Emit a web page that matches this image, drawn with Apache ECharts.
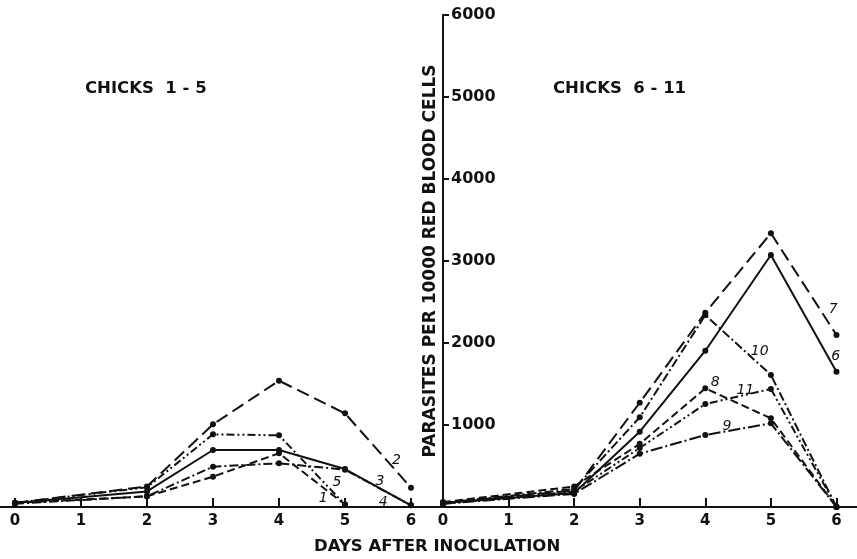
<!DOCTYPE html>
<html>
<head>
<meta charset="utf-8">
<script src="https://cdn.jsdelivr.net/npm/echarts@6/dist/echarts.min.js"></script>
<style>
  html, body { margin: 0; padding: 0; background: #fff; }
  #chart { width: 857px; height: 559px; }
</style>
</head>
<body>
<div id="chart"></div>
<script>
// days on which blood smears were counted
const days = [0, 2, 3, 4, 5, 6]
const dayTicks = [0, 1, 2, 3, 4, 5, 6]

// chicks 1-5 (parasites per 10000 red cells)
const chick1 = [50, 130, 370, 655, 30]
const chick2 = [50, 250, 1008, 1540, 1142, 236]
const chick3 = [50, 190, 695, 695, 463, 20]
const chick4 = [40, 130, 492, 533, 455, 20]
const chick5 = [50, 240, 886, 874, 30]

// chicks 6-11
const chick6 = [50, 170, 918, 1906, 3073, 1650]
const chick7 = [50, 200, 1272, 2370, 3338, 2098]
const chick8 = [60, 250, 770, 1447, 1081, 0]
const chick9 = [40, 160, 650, 878, 1020, 0]
const chick10 = [50, 220, 1094, 2341, 1610, 0]
const chick11 = [40, 190, 720, 1256, 1439, 0]

// where the chick numbers sit, in data units [day, parasites]
const labelSpots = {
  1: [4.67, 106], 2: [5.78, 573], 3: [5.53, 309], 4: [5.58, 52], 5: [4.88, 297],
  6: [5.99, 1833], 7: [5.95, 2411], 8: [4.15, 1516], 9: [4.33, 979], 10: [4.83, 1894], 11: [4.61, 1418]
}

const solid = 'solid'
const dash = [8, 4]
const longDash = [13, 6]
const dashDot = [9, 3, 2, 3]
const dashDotDot = [8, 3, 2, 3, 2, 3]

const FONT = 'DejaVu Sans'

function chickSeries (num, values, grid, type) {
  return {
    name: 'Chick ' + num,
    type: 'line',
    xAxisIndex: grid,
    yAxisIndex: grid,
    data: values.map((v, i) => [days[i], v]),
    symbol: 'circle',
    symbolSize: 6,
    showSymbol: true,
    itemStyle: { color: '#111' },
    lineStyle: { color: '#111', width: 2, type: type },
    animation: false,
    markPoint: {
      symbol: 'circle',
      symbolSize: 0,
      data: [{ coord: labelSpots[num], value: String(num) }],
      label: {
        show: true,
        position: 'inside',
        formatter: '{c}',
        color: '#111',
        fontFamily: FONT,
        fontStyle: 'italic',
        fontSize: 14
      }
    }
  }
}

const titleStyle = { fontFamily: FONT, fontWeight: 'bold', fontSize: 16.5, color: '#111' }

const chart = echarts.init(document.getElementById('chart'))
chart.setOption({
  backgroundColor: '#fff',
  title: [
    { text: 'CHICKS  1 - 5', left: 85, top: 80, padding: 0, textStyle: titleStyle },
    { text: 'CHICKS  6 - 11', left: 553, top: 80, padding: 0, textStyle: titleStyle },
    { text: 'DAYS AFTER INOCULATION', left: 314, top: 538, padding: 0, textStyle: titleStyle }
  ],
  grid: [
    { left: 0, top: 15, width: 443, height: 492 },
    { left: 443, top: 15, width: 414, height: 492 }
  ],
  xAxis: [0, 1].map(g => ({
    type: 'value',
    gridIndex: g,
    min: g === 0 ? -0.227 : 0,
    max: g === 0 ? 6.485 : 6.313,
    splitLine: { show: false },
    axisLine: { show: true, onZero: false, lineStyle: { color: '#111', width: 2 } },
    axisTick: { show: true, inside: true, length: 9, customValues: dayTicks, lineStyle: { color: '#111', width: 2 } },
    axisLabel: {
      customValues: dayTicks,
      margin: 7,
      color: '#111',
      fontFamily: FONT,
      fontWeight: 'bold',
      fontSize: 15
    }
  })),
  yAxis: [
    { type: 'value', gridIndex: 0, min: 0, max: 6000, interval: 1000, show: false },
    {
      type: 'value',
      gridIndex: 1,
      min: 0,
      max: 6000,
      interval: 1000,
      name: 'PARASITES PER 10000 RED BLOOD CELLS',
      nameLocation: 'middle',
      nameGap: 4,
      nameTextStyle: { fontFamily: FONT, fontWeight: 'bold', fontSize: 17, color: '#111' },
      splitLine: { show: false },
      axisLine: { show: true, lineStyle: { color: '#111', width: 2 } },
      axisTick: { show: true, inside: true, length: 6, lineStyle: { color: '#111', width: 2 } },
      axisLabel: {
        inside: true,
        margin: 8,
        showMinLabel: false,
        formatter: v => String(v),
        color: '#111',
        fontFamily: FONT,
        fontWeight: 'bold',
        fontSize: 16
      }
    }
  ],
  series: [
    chickSeries(1, chick1, 0, dash),
    chickSeries(2, chick2, 0, longDash),
    chickSeries(3, chick3, 0, solid),
    chickSeries(4, chick4, 0, dashDot),
    chickSeries(5, chick5, 0, dashDotDot),
    chickSeries(6, chick6, 1, solid),
    chickSeries(7, chick7, 1, longDash),
    chickSeries(8, chick8, 1, dash),
    chickSeries(9, chick9, 1, [12, 3, 2, 3]),
    chickSeries(10, chick10, 1, dashDot),
    chickSeries(11, chick11, 1, dashDotDot)
  ]
})
</script>
</body>
</html>
